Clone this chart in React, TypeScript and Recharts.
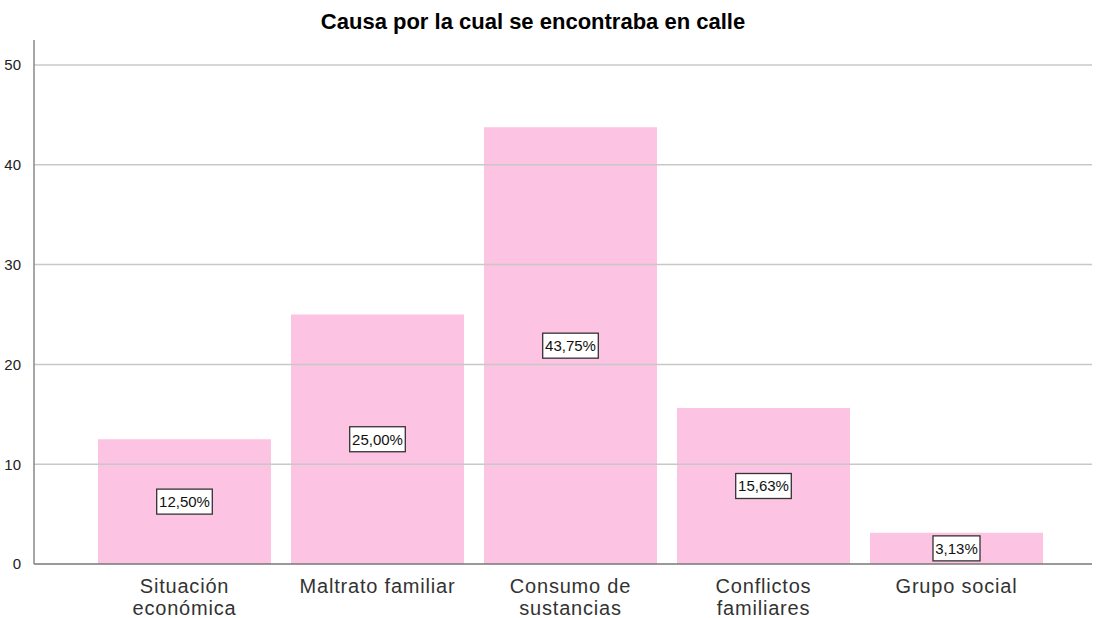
import React from "react";
import { BarChart, Bar, XAxis, YAxis, ReferenceLine, LabelList } from "recharts";

const categories = ["Situación económica", "Maltrato familiar", "Consumo de sustancias", "Conflictos familiares", "Grupo social"];
const tickLines = [["Situación", "económica"], ["Maltrato familiar"], ["Consumo de", "sustancias"], ["Conflictos", "familiares"], ["Grupo social"]];
const values = [12.5, 25.0, 43.75, 15.63, 3.13];
const labels = ["12,50%", "25,00%", "43,75%", "15,63%", "3,13%"];
const yTicks = [0, 10, 20, 30, 40, 50];

const data = categories.map((c, i) => ({ name: c, value: values[i], label: labels[i] }));

const FONT = "'Liberation Sans', Arial, sans-serif";

const XTick = (props: any) => {
  const { x, y, index } = props;
  const lines = tickLines[index] || [];
  return (
    <g>
      {lines.map((l: string, i: number) => (
        <text
          key={i}
          x={x}
          y={y + 20.5 + i * 22.5}
          textAnchor="middle"
          fontSize={20}
          letterSpacing={0.8}
          fill="#333"
          fontFamily={FONT}
        >
          {l}
        </text>
      ))}
    </g>
  );
};

const BoxLabel = (props: any) => {
  const { x, y, width, height, index } = props;
  const text = labels[index];
  const cx = x + width / 2;
  const cy = y + height / 2;
  const w = text.length * 8.6 + 4;
  const h = 25;
  return (
    <g>
      <rect x={cx - w / 2} y={cy - h / 2} width={w} height={h} fill="#fff" stroke="#333" strokeWidth={1.3} />
      <text x={cx} y={cy + 5.5} textAnchor="middle" fontSize={15} fill="#111" fontFamily={FONT}>
        {text}
      </text>
    </g>
  );
};

export default function App() {
  return (
    <div style={{ position: "fixed", left: 0, top: 0, width: 1100, height: 618, background: "#fff" }}>
      <BarChart width={1100} height={618} data={data} margin={{ top: 40, right: 8, left: 0, bottom: 0 }}>
        <text x={533} y={29} textAnchor="middle" fontSize={22} fontWeight="bold" fill="#000" fontFamily={FONT}>
          Causa por la cual se encontraba en calle
        </text>
        {yTicks.slice(1).map((t) => (
          <ReferenceLine key={t} y={t} stroke="#c8c8c8" strokeWidth={1.5} />
        ))}
        <XAxis
          dataKey="name"
          interval={0}
          tick={<XTick />}
          tickLine={false}
          axisLine={{ stroke: "#777", strokeWidth: 1.5 }}
          height={54}
          padding={{ left: 54, right: 39 }}
        />
        <YAxis
          domain={[0, 52.5]}
          ticks={yTicks}
          width={34}
          tickLine={false}
          axisLine={{ stroke: "#888", strokeWidth: 1.5 }}
          tick={{ fontSize: 15, fill: "#222", fontFamily: FONT }}
          tickMargin={7}
        />
        <Bar dataKey="value" fill="#fdc3e2" barSize={173} isAnimationActive={false}>
          <LabelList dataKey="label" content={<BoxLabel />} />
        </Bar>
      </BarChart>
    </div>
  );
}
